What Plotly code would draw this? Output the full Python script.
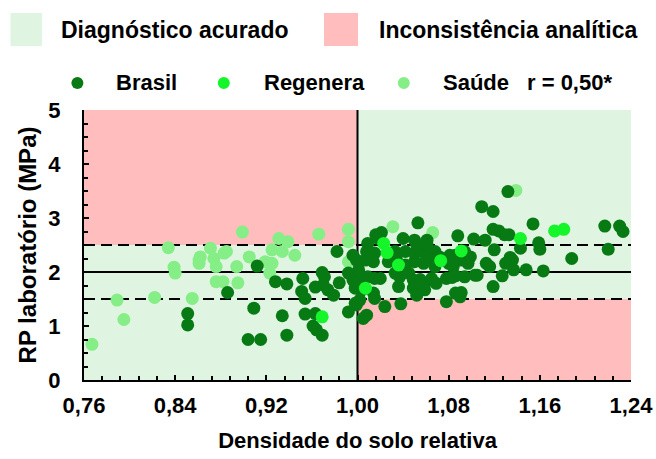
import numpy as np
import plotly.graph_objects as go

# ---------------- data ----------------
brasil_x = [0.851, 0.851, 0.886, 0.912, 0.928, 0.938, 0.952, 0.951, 0.954, 0.963, 0.969, 0.971,
            0.970, 0.974, 0.979, 0.982, 0.984, 0.996, 0.992, 0.996, 0.998, 0.992, 0.999, 0.909,
            0.934, 0.954, 0.963, 0.961, 0.964, 0.969, 0.938, 0.904, 0.915, 0.999, 1.001, 1.001,
            0.998,
            1.016, 1.021, 1.018, 1.053, 1.040, 1.050, 1.061, 1.088, 1.102, 1.109, 1.119, 1.132,
            1.154, 1.217, 1.230, 1.233, 1.119, 1.124, 1.129, 1.133, 1.112, 1.120, 1.143, 1.159,
            1.160, 1.134, 1.136, 1.130, 1.113, 1.116, 1.220, 1.188, 1.137, 1.148, 1.163, 1.127,
            1.119, 1.105, 1.078, 1.090, 1.091, 1.086, 1.038, 1.024, 1.008, 1.005, 1.009, 1.008,
            1.007, 1.015, 1.014, 1.030, 1.033, 1.042, 1.050, 1.056, 1.062, 1.068, 1.052, 1.061,
            1.072, 1.081, 1.086, 1.094, 1.099, 1.091, 1.097, 1.027, 1.034, 1.042, 1.050, 1.058,
            1.064, 1.068, 1.080, 1.084, 1.004, 1.009, 1.015, 1.020, 1.033, 1.037, 1.045, 1.049,
            1.055, 1.059, 1.065, 1.069, 1.049, 1.053, 1.059, 1.052, 1.078, 1.083, 1.086, 1.094,
            1.103, 1.036, 1.004, 1.002, 1.014, 1.015]
brasil_y = [1.23, 1.02, 1.62, 2.11, 1.82, 1.78, 1.88, 1.64, 1.51, 1.72, 1.99, 1.91,
            1.76, 1.67, 1.57, 2.38, 1.80, 2.31, 1.98, 1.85, 1.70, 1.26, 1.39, 1.33,
            1.19, 1.22, 1.23, 1.00, 0.93, 0.83, 0.83, 0.75, 0.75, 2.22, 2.04, 1.70,
            1.42,
            2.69, 2.73, 2.62, 2.91, 2.62, 2.59, 2.59, 2.67, 2.61, 3.21, 3.12, 3.49,
            2.89, 2.85, 2.85, 2.75, 2.79, 2.76, 2.69, 2.69, 2.59, 2.41, 2.44, 2.54,
            2.42, 2.27, 2.22, 2.16, 2.16, 2.10, 2.42, 2.25, 2.04, 2.04, 2.02, 1.93,
            1.73, 1.94, 1.45, 1.54, 1.62, 1.61, 1.41, 1.36, 1.20, 1.14, 2.53, 2.38,
            2.22, 2.35, 2.19, 2.35, 2.38, 2.38, 2.35, 2.38, 2.35, 2.38, 2.50, 2.50,
            2.28, 2.31, 2.31, 2.38, 2.28, 2.22, 2.16, 2.19, 2.25, 2.13, 2.19, 2.16,
            2.22, 2.10, 2.16, 2.10, 1.85, 1.91, 1.88, 1.88, 1.98, 1.91, 1.98, 1.85,
            1.86, 1.79, 1.88, 1.79, 1.70, 1.64, 1.67, 1.57, 1.88, 1.90, 1.93, 1.91,
            1.94, 1.73, 1.67, 1.48, 1.61, 1.51]

regenera_x = [0.969, 1.007, 1.023, 1.026, 1.036, 1.073, 1.091, 1.143, 1.173, 1.181]
regenera_y = [1.17, 1.70, 2.53, 2.36, 2.13, 2.21, 2.39, 2.62, 2.76, 2.79]

saude_x = [0.767, 0.789, 0.795, 0.822, 0.834, 0.839, 0.840, 0.855, 0.861, 0.862, 0.871, 0.874,
           0.876, 0.883, 0.876, 0.882, 0.899, 0.931, 0.939, 0.966, 0.992, 0.992, 0.885, 0.905,
           0.894, 0.919, 0.925, 0.925, 0.934, 0.945, 0.895, 0.923, 0.992, 1.031, 1.066, 1.139,
           0.861]
saude_y = [0.66, 1.48, 1.12, 1.53, 2.45, 2.09, 1.98, 1.51, 2.22, 2.28, 2.44, 2.25,
           2.10, 2.35, 1.82, 1.82, 2.74, 2.62, 2.56, 2.70, 2.79, 2.56, 2.38, 2.28,
           2.10, 2.19, 2.16, 2.41, 2.38, 2.31, 1.80, 1.98, 2.19, 2.84, 2.73, 3.51,
           2.16]

x_ticks = [0.76, 0.84, 0.92, 1.00, 1.08, 1.16, 1.24]
x_ticktext = ["0,76", "0,84", "0,92", "1,00", "1,08", "1,16", "1,24"]
y_ticks = [0, 1, 2, 3, 4, 5]

x_ref = 1.00        # reference relative density
y_ref = 2.0         # reference RP
y_band = (1.5, 2.5) # tolerance band
x_range = (0.76, 1.24)
y_range = (0, 5)

legend_regions = ["Diagnóstico acurado", "Inconsistência analítica"]
legend_series = ["Brasil", "Regenera", "Saúde"]
corr_text = "r = 0,50*"

# ---------------- style ----------------
C_BRASIL = "#077a14"
C_REGEN = "#14f52a"
C_SAUDE = "#86ee86"
C_GREEN_BG = "#dff5e1"
C_PINK_BG = "#ffbdbd"
FONT = "Liberation Sans, Arial, sans-serif"

L, R, T, B = 84, 25, 110, 79
W, H = 656, 459
pw, ph = W - L - R, H - T - B

def px(xp):  # pixel x -> paper x
    return (xp - L) / pw

def py(yp):  # pixel y -> paper y
    return (H - B - yp) / ph

fig = go.Figure()

mk = dict(size=13, line=dict(width=0))
fig.add_trace(go.Scatter(x=saude_x, y=saude_y, mode="markers", marker=dict(color=C_SAUDE, **mk),
                         name=legend_series[2], showlegend=False))
fig.add_trace(go.Scatter(x=brasil_x, y=brasil_y, mode="markers", marker=dict(color=C_BRASIL, **mk),
                         name=legend_series[0], showlegend=False))
fig.add_trace(go.Scatter(x=regenera_x, y=regenera_y, mode="markers", marker=dict(color=C_REGEN, **mk),
                         name=legend_series[1], showlegend=False))

shapes = []
# background regions
shapes.append(dict(type="rect", xref="x", yref="y", x0=x_range[0], x1=x_ref, y0=y_range[0], y1=y_band[1],
                   fillcolor=C_GREEN_BG, line=dict(width=0), layer="below"))
shapes.append(dict(type="rect", xref="x", yref="y", x0=x_range[0], x1=x_ref, y0=y_band[1], y1=y_range[1],
                   fillcolor=C_PINK_BG, line=dict(width=0), layer="below"))
shapes.append(dict(type="rect", xref="x", yref="y", x0=x_ref, x1=x_range[1], y0=y_band[0], y1=y_range[1],
                   fillcolor=C_GREEN_BG, line=dict(width=0), layer="below"))
shapes.append(dict(type="rect", xref="x", yref="y", x0=x_ref, x1=x_range[1], y0=y_range[0], y1=y_band[0],
                   fillcolor=C_PINK_BG, line=dict(width=0), layer="below"))
# reference lines
shapes.append(dict(type="line", xref="x", yref="y", x0=x_range[0], x1=x_range[1], y0=y_ref, y1=y_ref,
                   line=dict(color="black", width=2), layer="below"))
for yb in y_band:
    shapes.append(dict(type="line", xref="x", yref="y", x0=x_range[0], x1=x_range[1], y0=yb, y1=yb,
                       line=dict(color="black", width=2, dash="11px,6px"), layer="below"))
shapes.append(dict(type="line", xref="x", yref="y", x0=x_ref, x1=x_ref, y0=y_range[0], y1=y_range[1],
                   line=dict(color="black", width=2), layer="below"))

# legend row 1 squares
ROW1_Y, ROW2_Y = 30, 83
shapes.append(dict(type="rect", xref="paper", yref="paper", x0=px(10.5), x1=px(42), y0=py(46), y1=py(13),
                   fillcolor=C_GREEN_BG, line=dict(width=0)))
shapes.append(dict(type="rect", xref="paper", yref="paper", x0=px(324), x1=px(358), y0=py(46), y1=py(13),
                   fillcolor=C_PINK_BG, line=dict(width=0)))
# legend row 2 dots
r = 6
for cx, col in zip([77.4, 223.8, 403.8], [C_BRASIL, C_REGEN, C_SAUDE]):
    shapes.append(dict(type="circle", xref="paper", yref="paper", x0=px(cx - r), x1=px(cx + r),
                       y0=py(ROW2_Y + r), y1=py(ROW2_Y - r), fillcolor=col, line=dict(width=0)))

annotations = []
def txt(x, y, s, size):
    annotations.append(dict(xref="paper", yref="paper", x=px(x), y=py(y), text=s, showarrow=False,
                            xanchor="left", yanchor="middle",
                            font=dict(family=FONT, size=size, color="black", weight="bold")))

txt(58.6, ROW1_Y, legend_regions[0], 23)
txt(376.6, ROW1_Y, legend_regions[1], 23)
txt(113.8, ROW2_Y, legend_series[0], 22)
txt(261.5, ROW2_Y, legend_series[1], 22)
txt(441.4, ROW2_Y, legend_series[2], 22)
txt(525, ROW2_Y, corr_text, 22)

minor_x = list(np.arange(x_range[0], x_range[1] + 1e-9, 0.016))
minor_y = list(np.arange(y_range[0], y_range[1] + 1e-9, 0.25))

fig.update_layout(
    width=W, height=H,
    margin=dict(l=L, r=R, t=T, b=B, pad=0),
    paper_bgcolor="white", plot_bgcolor="white",
    shapes=shapes, annotations=annotations,
    showlegend=False,
    font=dict(family=FONT, color="black"),
    xaxis=dict(range=list(x_range), tickmode="array", tickvals=x_ticks, ticktext=x_ticktext,
               showgrid=False, zeroline=False, showline=True, linecolor="black", linewidth=2,
               ticks="inside", ticklen=5, tickwidth=2, tickcolor="black",
               minor=dict(tickmode="array", tickvals=minor_x, ticks="inside", ticklen=4, tickwidth=1.5,
                          tickcolor="black", showgrid=False),
               tickfont=dict(family=FONT, size=22, color="black", weight="bold"),
               ticklabelstandoff=5, automargin=False,
               title=dict(text="Densidade do solo relativa", standoff=15,
                          font=dict(family=FONT, size=22, color="black", weight="bold")),
               fixedrange=True),
    yaxis=dict(range=list(y_range), tickmode="array", tickvals=y_ticks,
               showgrid=False, zeroline=False, showline=True, linecolor="black", linewidth=2,
               ticks="inside", ticklen=5, tickwidth=2, tickcolor="black",
               minor=dict(tickmode="array", tickvals=minor_y, ticks="inside", ticklen=4, tickwidth=1.5,
                          tickcolor="black", showgrid=False),
               tickfont=dict(family=FONT, size=22, color="black", weight="bold"),
               ticklabelstandoff=17, automargin=False,
               title=dict(text="RP laboratório (MPa)", standoff=5,
                          font=dict(family=FONT, size=24, color="black", weight="bold")),
               fixedrange=True),
)

fig.write_html("out.html")
